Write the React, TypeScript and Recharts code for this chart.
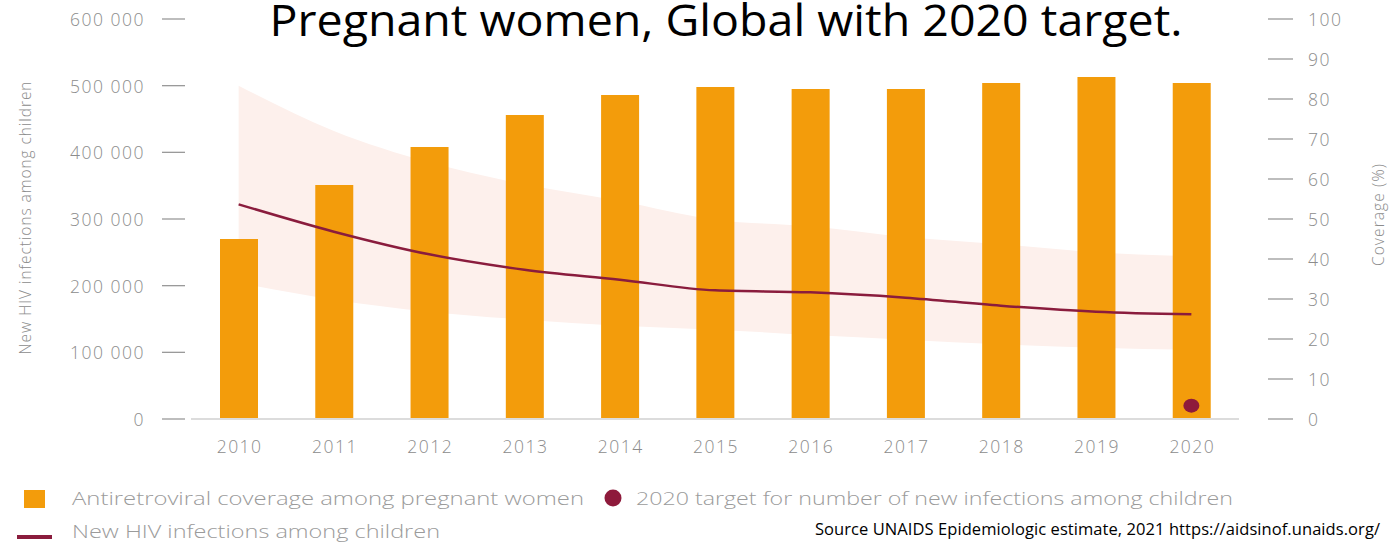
import { ComposedChart, Bar, Line, Area, XAxis, YAxis } from 'recharts';

// values
const years = ['2010', '2011', '2012', '2013', '2014', '2015', '2016', '2017', '2018', '2019', '2020'];
const coverage = [45, 58.5, 68, 76, 81, 83, 82.5, 82.5, 84, 85.5, 84];
const newInfections = [322000, 281000, 247000, 224000, 209000, 193000, 190000, 182000, 170000, 161000, 157000];
const lowerBound = [204000, 179000, 161000, 149000, 140000, 134000, 126000, 119000, 112000, 107000, 104000];
const upperBound = [500000, 432000, 385000, 352000, 327000, 299000, 289000, 273000, 262000, 250000, 244000];
const target = [null, null, null, null, null, null, null, null, null, null, 20000];
const leftTicks = [0, 100000, 200000, 300000, 400000, 500000, 600000];
const rightTicks = [0, 10, 20, 30, 40, 50, 60, 70, 80, 90, 100];

const data = years.map((year, i) => ({
  year,
  coverage: coverage[i],
  infections: newInfections[i],
  range: [lowerBound[i], upperBound[i]],
  target: target[i],
}));

const ORANGE = '#f39c0b';
const MAROON = '#8a1c3d';
const BAND = '#fdf0ec';
const GREY = '#8c8c8c';
const FONT = "'Open Sans', sans-serif";

const fmt = (v: number) => String(v).replace(/\B(?=(\d{3})+(?!\d))/g, ' ');

function LeftTick({ x, y, payload }: any) {
  return (
    <g>
      <line x1={x - 29} x2={x - 6} y1={y} y2={y} stroke="#9a9a9a" strokeWidth={1.3} />
      <text x={x - 46} y={y} textAnchor="end" dominantBaseline="central" fontFamily={FONT} fontWeight={300} fontSize={17.5} letterSpacing={1.5} fill={GREY}>
        {fmt(payload.value)}
      </text>
    </g>
  );
}

function RightTick({ x, y, payload }: any) {
  return (
    <g>
      <line x1={x + 29} x2={x + 54} y1={y} y2={y} stroke="#9a9a9a" strokeWidth={1.3} />
      <text x={x + 69} y={y} textAnchor="start" dominantBaseline="central" fontFamily={FONT} fontWeight={300} fontSize={17.5} letterSpacing={1.5} fill={GREY}>
        {payload.value}
      </text>
    </g>
  );
}

function YearTick({ x, y, payload }: any) {
  return (
    <text x={x + 1} y={y + 27} textAnchor="middle" dominantBaseline="central" fontFamily={FONT} fontWeight={300} fontSize={17.5} letterSpacing={1.5} fill={GREY}>
      {payload.value}
    </text>
  );
}

function TargetDot(props: any) {
  const { cx, cy, value, index } = props;
  if (value == null || cx == null || cy == null) return <g key={`t-${index}`} />;
  return <ellipse key={`t-${index}`} cx={cx} cy={cy} rx={8} ry={7} fill="#8e1a3b" />;
}

export default function App() {
  return (
    <div style={{ position: 'absolute', left: 0, top: 0, width: 1392, height: 542, overflow: 'hidden', background: '#fff' }}>
      <ComposedChart width={1392} height={542} data={data} margin={{ top: 19, right: 0, bottom: 0, left: 0 }}>
        <XAxis
          dataKey="year"
          height={123}
          tickLine={false}
          tickSize={0}
          tickMargin={0}
          axisLine={{ stroke: '#dcdcdc', strokeWidth: 2 }}
          tick={<YearTick />}
          interval={0}
        />
        <YAxis
          yAxisId="left"
          width={191}
          domain={[0, 600000]}
          ticks={leftTicks}
          axisLine={false}
          tickLine={false}
          tickSize={0}
          tickMargin={0}
          tick={<LeftTick />}
          interval={0}
        />
        <YAxis
          yAxisId="right"
          orientation="right"
          width={153}
          domain={[0, 100]}
          ticks={rightTicks}
          axisLine={false}
          tickLine={false}
          tickSize={0}
          tickMargin={0}
          tick={<RightTick />}
          interval={0}
        />
        <Area
          yAxisId="left"
          dataKey="range"
          type="monotone"
          fill={BAND}
          fillOpacity={1}
          stroke="none"
          isAnimationActive={false}
        />
        <Bar yAxisId="right" dataKey="coverage" fill={ORANGE} barSize={38} isAnimationActive={false} />
        <Line
          yAxisId="left"
          dataKey="infections"
          type="monotone"
          stroke={MAROON}
          strokeWidth={2.5}
          dot={false}
          activeDot={false}
          isAnimationActive={false}
        />
        <Line
          yAxisId="left"
          dataKey="target"
          stroke="none"
          dot={(p: any) => <TargetDot {...p} key={`t-${p.index}`} />}
          activeDot={false}
          isAnimationActive={false}
        />
      </ComposedChart>

      <svg width={1392} height={542} style={{ position: 'absolute', left: 0, top: 0, pointerEvents: 'none' }}>
        <text x={726} y={36} textAnchor="middle" fontFamily={FONT} fontSize={43} textLength={913} lengthAdjust="spacingAndGlyphs" fill="#000">
          Pregnant women, Global with 2020 target.
        </text>

        <text x={25} y={218} transform="rotate(-90 25 218)" textAnchor="middle" dominantBaseline="central" fontFamily={FONT} fontWeight={300} fontSize={15.5} textLength={273} fill={GREY}>
          New HIV infections among children
        </text>
        <text x={1378} y={215} transform="rotate(-90 1378 215)" textAnchor="middle" dominantBaseline="central" fontFamily={FONT} fontWeight={300} fontSize={15.5} textLength={102} fill={GREY}>
          Coverage (%)
        </text>

        <rect x={24} y={490} width={21} height={18} fill={ORANGE} />
        <text x={72} y={505} fontFamily={FONT} fontWeight={300} fontSize={18} textLength={512} lengthAdjust="spacingAndGlyphs" fill="#9b9b9b">
          Antiretroviral coverage among pregnant women
        </text>
        <circle cx={613} cy={498} r={8.5} fill="#8e1a3b" />
        <text x={636} y={505} fontFamily={FONT} fontWeight={300} fontSize={18} textLength={597} lengthAdjust="spacingAndGlyphs" fill="#9b9b9b">
          2020 target for number of new infections among children
        </text>
        <line x1={17} x2={52} y1={537} y2={537} stroke={MAROON} strokeWidth={4} />
        <text x={72} y={538} fontFamily={FONT} fontWeight={300} fontSize={18} textLength={368} lengthAdjust="spacingAndGlyphs" fill="#9b9b9b">
          New HIV infections among children
        </text>

        <text x={815} y={535} fontFamily={FONT} fontSize={16.5} textLength={565} fill="#000">
          Source UNAIDS Epidemiologic estimate, 2021 https://aidsinof.unaids.org/
        </text>
      </svg>
    </div>
  );
}
